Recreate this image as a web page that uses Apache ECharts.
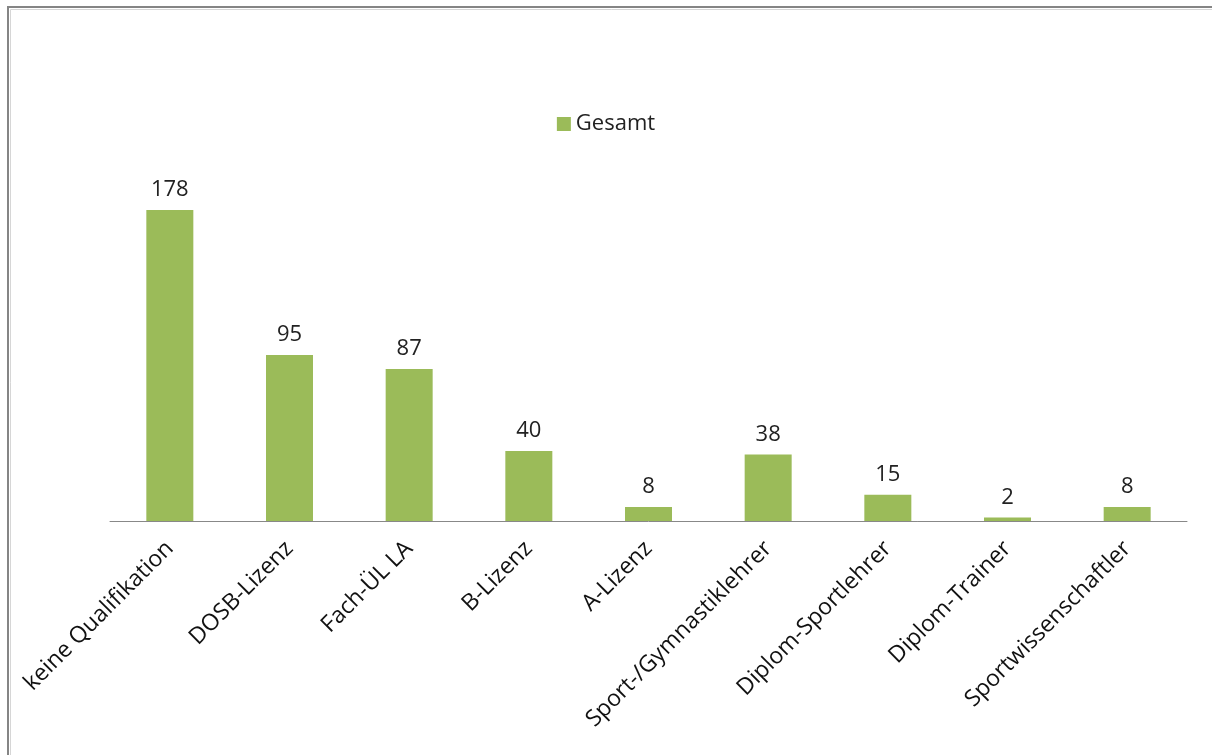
<!DOCTYPE html>
<html>
<head>
<meta charset="utf-8">
<script src="https://cdn.jsdelivr.net/npm/echarts@6/dist/echarts.min.js"></script>
<style>
html,body{margin:0;padding:0;background:#fff;}
#chart{width:1212px;height:755px;}
</style>
</head>
<body>
<div id="chart"></div>
<script>
const categories = ["keine Qualifikation","DOSB-Lizenz","Fach-ÜL LA","B-Lizenz","A-Lizenz","Sport-/Gymnastiklehrer","Diplom-Sportlehrer","Diplom-Trainer","Sportwissenschaftler"];
const gesamt = [178, 95, 87, 40, 8, 38, 15, 2, 8];
const seriesName = "Gesamt";

const chart = echarts.init(document.getElementById('chart'));
const font = "'Open Sans', sans-serif";
chart.setOption({
  animation: false,
  backgroundColor: '#ffffff',
  graphic: [
    {type:'rect', shape:{x:8, y:7, width:1220, height:770}, style:{fill:'none', stroke:'#858585', lineWidth:2}},
    {type:'rect', shape:{x:10.5, y:9.5, width:1220, height:770}, style:{fill:'none', stroke:'#d6d6d6', lineWidth:1}}
  ],
  legend: {
    data: [seriesName],
    top: 108,
    left: 'center',
    icon: 'rect',
    itemWidth: 14,
    itemHeight: 14,
    itemGap: 6,
    textStyle: {fontFamily: font, fontSize: 22, color: '#222'}
  },
  grid: {left: 110, right: 25, top: 171.6, bottom: 234, containLabel: false},
  xAxis: {
    type: 'category',
    data: categories,
    axisLine: {lineStyle: {color: '#888888', width: 1}},
    axisTick: {show: false},
    axisLabel: {rotate: 45, interval: 0, margin: 24, fontFamily: font, fontSize: 23, color: '#111'}
  },
  yAxis: {
    type: 'value',
    min: 0, max: 200,
    show: false,
    splitLine: {show: false}
  },
  series: [{
    name: seriesName,
    type: 'bar',
    data: gesamt,
    barWidth: 47,
    itemStyle: {color: '#9BBB59'},
    label: {show: true, position: 'top', distance: 9, fontFamily: font, fontSize: 22, color: '#222'}
  }]
});
</script>
</body>
</html>
